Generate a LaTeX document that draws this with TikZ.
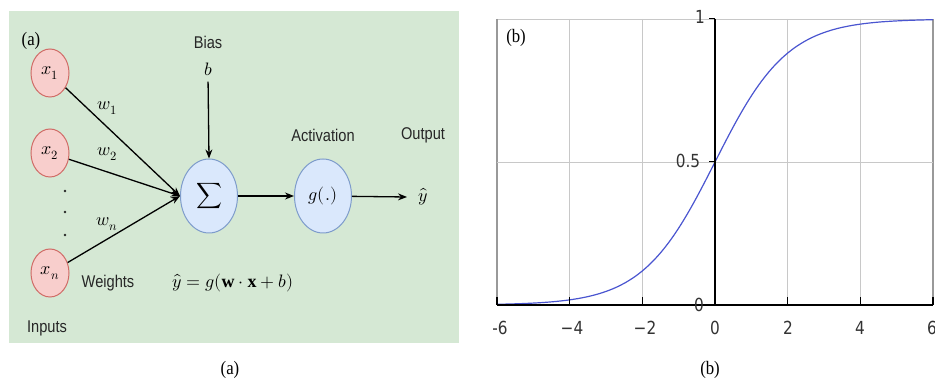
\documentclass[tikz,border=0pt]{standalone}
\usepackage{fontspec}
\setmainfont{Liberation Serif}
\newfontfamily\lsans[FakeStretch=0.86]{Liberation Sans}
\newfontfamily\dvsans[FakeStretch=0.85]{DejaVu Sans}
\newfontfamily\lserif[FakeStretch=0.88]{Liberation Serif}
\usepackage{unicode-math}
\setmathfont{Latin Modern Math}
\usetikzlibrary{shapes.geometric,arrows.meta}
\definecolor{bggreen}{HTML}{D5E8D4}
\definecolor{inpink}{HTML}{F8CECC}
\definecolor{inred}{HTML}{D06B66}
\definecolor{nblue}{HTML}{DAE8FC}
\definecolor{nblueb}{HTML}{7E9CCB}
\definecolor{curve}{HTML}{4A55D0}
\definecolor{gridg}{HTML}{C8C8C8}
\tikzset{
  inputnode/.style={ellipse, draw=inred, fill=inpink, line width=1pt, minimum width=38pt, minimum height=48pt, inner sep=0pt, font=\fontsize{18}{20}\selectfont},
  opnode/.style={ellipse, draw=nblueb, fill=nblue, line width=1pt, minimum width=57pt, minimum height=74pt, inner sep=0pt, font=\fontsize{18}{20}\selectfont},
  lbl/.style={font=\lsans\fontsize{17}{19}\selectfont, text=black!85, inner sep=0pt},
  mlbl/.style={font=\fontsize{18}{20}\selectfont, inner sep=0pt},
  serif/.style={font=\lserif\fontsize{19}{21}\selectfont, inner sep=0pt},
  tick/.style={font=\dvsans\fontsize{18}{20}\selectfont, text=black!80, inner sep=0pt},
  conn/.style={line width=1.3pt, -{Stealth[length=9pt,width=7pt]}},
  dotn/.style={circle, fill=black!85, inner sep=0pt, minimum size=2.6pt},
}
\begin{document}
\begin{tikzpicture}[x=1pt,y=-1pt]
\useasboundingbox (0,0) rectangle (935,379);
% ---------- panel (a) ----------
\fill[bggreen] (9,11) rectangle (459,343);
\node[serif] (la) at (31,41) {(a)};
\node[inputnode] (x1) at (50,73) {$x_1$};
\node[inputnode] (x2) at (50,153) {$x_2$};
\node[inputnode] (xn) at (50,273) {$x_n$};
\node[dotn] (d1) at (65,191) {};
\node[dotn] (d2) at (65,212) {};
\node[dotn] (d3) at (65,235) {};
\node[opnode] (sum) at (209,196) {$\displaystyle\sum$};
\node[opnode] (g) at (323,196) {$g(.)$};
\node[lbl] (bias) at (208,42) {Bias};
\node[mlbl] (b) at (208,69) {$b$};
\node[lbl] (act) at (323,135) {Activation};
\node[lbl] (out) at (423,135) {Output};
\node[mlbl] (yh) at (423,197) {$\hat{y}$};
\node[mlbl] (w1) at (107,108) {$w_1$};
\node[mlbl] (w2) at (107,154) {$w_2$};
\node[mlbl] (wn) at (107,224) {$w_n$};
\node[lbl] (wts) at (108,283) {Weights};
\node[mlbl] (eq) at (233,283) {$\hat{y}=g(\mathbf{w}\cdot\mathbf{x}+b)$};
\node[lbl] (inp) at (47,328) {Inputs};
\draw[conn] (x1) -- (sum.west);
\draw[conn] (x2) -- (sum.west);
\draw[conn] (xn) -- (sum.west);
\draw[conn, shorten <=6pt] (b.south) -- (sum.north);
\draw[conn] (sum) -- (g);
\draw[conn] (g) -- ([xshift=-16pt]yh.center) coordinate (yend);
% ---------- panel (b) ----------
\draw[gridg, line width=0.8pt] (497,19) -- (933,19);
\draw[gray!80, line width=1.2pt] (497,19) -- (497,305);
\draw[gray!80, line width=1.2pt] (933,19) -- (933,305);
\foreach \t in {-4,-2,2,4} {
  \draw[gridg, line width=0.8pt] ({715+36.33*\t},19) -- ({715+36.33*\t},305);
}
\draw[gridg, line width=0.8pt] (497,162) -- (933,162);
\draw[curve, line width=1.2pt, domain=-6:6, samples=120, smooth]
  plot ({715+36.33*\x},{305-286/(1+exp(-\x))});
\draw[black, line width=1.2pt] (497,305) -- (933,305);
\draw[black, line width=1.2pt] (715,19) -- (715,305);
\foreach \t in {-6,-4,-2,2,4,6} {
  \draw[black, line width=1.2pt] ({715+36.33*\t},305) -- ({715+36.33*\t},297);
}
\draw[black, line width=1pt] (715,19) -- (709,19);
\draw[black, line width=1pt] (715,162) -- (709,162);
\node[tick] (y1) at (700,17) {1};
\node[tick] (y05) at (688,161) {0.5};
\node[tick] (y0) at (699,305) {0};
\node[tick] (tm6) at (500,328) {-6};
\node[tick] (tm4) at (572,328) {−4};
\node[tick] (tm2) at (645,328) {−2};
\node[tick] (t0) at (715,328) {0};
\node[tick] (t2) at (788,328) {2};
\node[tick] (t4) at (860,328) {4};
\node[tick, anchor=west] (t6) at (927,328) {6};
\node[serif] (lb) at (516,38) {(b)};
% ---------- captions ----------
\node[serif] (capa) at (230,370) {(a)};
\node[serif] (capb) at (710,370) {(b)};
\end{tikzpicture}
\end{document}
